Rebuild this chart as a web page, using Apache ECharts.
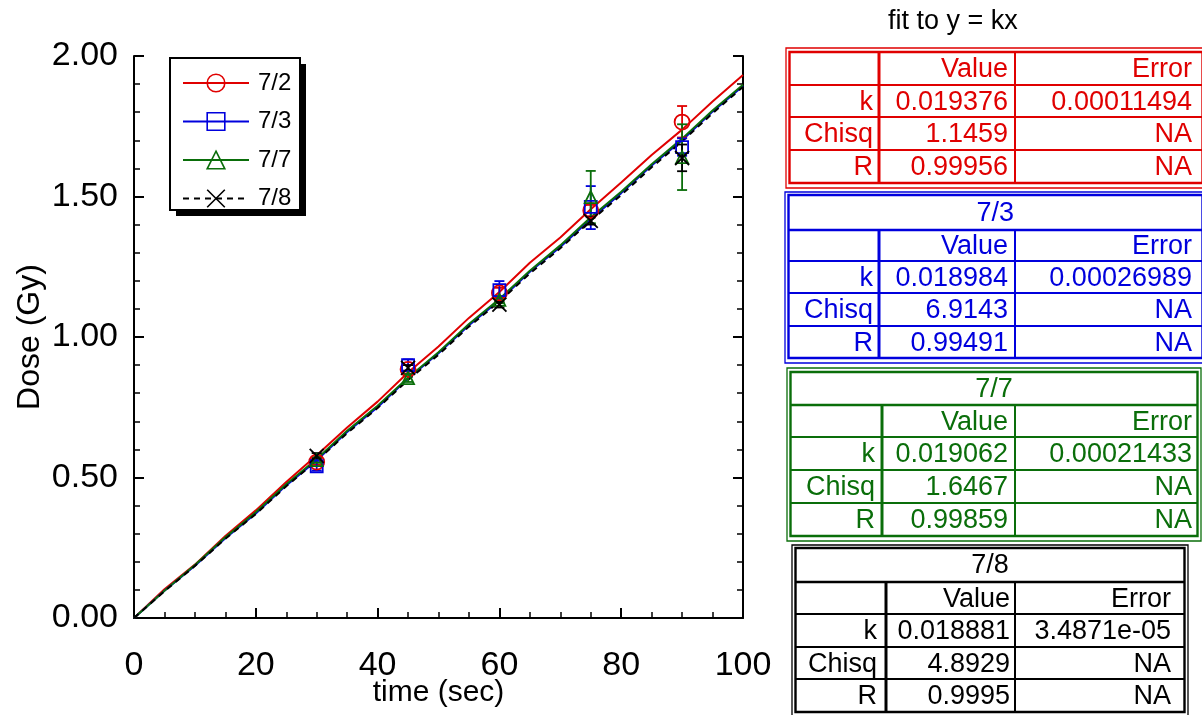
<!DOCTYPE html>
<html>
<head>
<meta charset="utf-8">
<script src="https://cdn.jsdelivr.net/npm/echarts@6/dist/echarts.min.js"></script>
<style>
html,body{margin:0;padding:0;background:#fff;}
#chart{width:1202px;height:715px;}
</style>
</head>
<body>
<div id="chart"></div>
<script>
// ---------- data ----------
const seriesNames = ['7/2', '7/3', '7/7', '7/8'];
const seriesColors = ['#e00000', '#0000dd', '#0a6e0a', '#000000'];
const curveTime = [0, 5, 10, 15, 20, 25, 30, 35, 40, 45, 50, 55, 60, 65, 70, 75, 80, 85, 90, 95, 100];
const curve72 = [0, 0.102, 0.190, 0.292, 0.383, 0.484, 0.579, 0.678, 0.770, 0.874, 0.966, 1.068, 1.160, 1.264, 1.354, 1.455, 1.550, 1.648, 1.738, 1.838, 1.932];
const curve73 = [0, 0.097, 0.186, 0.284, 0.372, 0.472, 0.561, 0.662, 0.750, 0.852, 0.942, 1.042, 1.130, 1.232, 1.320, 1.420, 1.512, 1.610, 1.700, 1.802, 1.893];
const curve77 = [0, 0.097, 0.189, 0.287, 0.376, 0.476, 0.566, 0.666, 0.755, 0.855, 0.946, 1.046, 1.135, 1.236, 1.326, 1.426, 1.517, 1.615, 1.706, 1.806, 1.898];
const curve78 = [0, 0.095, 0.185, 0.282, 0.370, 0.469, 0.559, 0.658, 0.747, 0.847, 0.937, 1.037, 1.126, 1.226, 1.316, 1.414, 1.505, 1.604, 1.696, 1.796, 1.890];
const pointTime = [30, 45, 60, 75, 90];
const points72 = [0.555, 0.885, 1.157, 1.450, 1.765];
const low72 = [0.545, 0.870, 1.140, 1.430, 1.710];
const high72 = [0.565, 0.900, 1.175, 1.470, 1.822];
const points73 = [0.540, 0.900, 1.167, 1.463, 1.676];
const low73 = [0.525, 0.880, 1.135, 1.384, 1.645];
const high73 = [0.555, 0.920, 1.199, 1.537, 1.707];
const points77 = [0.562, 0.854, 1.132, 1.498, 1.640];
const low77 = [0.552, 0.840, 1.120, 1.405, 1.523];
const high77 = [0.572, 0.868, 1.145, 1.591, 1.757];
const points78 = [0.577, 0.890, 1.115, 1.413, 1.637];
const low78 = [0.567, 0.880, 1.105, 1.400, 1.590];
const high78 = [0.587, 0.900, 1.125, 1.426, 1.685];
const fitTitle = 'fit to y = kx';
const fitHeader = ['', 'Value', 'Error'];
const fitRowLabels = ['k', 'Chisq', 'R'];
const fitK = ['0.019376', '0.018984', '0.019062', '0.018881'];
const fitKErr = ['0.00011494', '0.00026989', '0.00021433', '3.4871e-05'];
const fitChisq = ['1.1459', '6.9143', '1.6467', '4.8929'];
const fitR = ['0.99956', '0.99491', '0.99859', '0.9995'];
const naText = 'NA';

// ---------- build ----------
const curves = [curve72, curve73, curve77, curve78];
const pts = [points72, points73, points77, points78];
const lows = [low72, low73, low77, low78];
const highs = [high72, high73, high77, high78];
const symbols = ['circle', 'rect', 'triangle', 'path://M0,0L10,10M0,10L10,0'];
const symbolSizes = [15, 12, 12, 14];
const FONT = '"Liberation Sans", Arial, Helvetica, sans-serif';

const series = [];
seriesNames.forEach((name, i) => {
  series.push({
    name: name, type: 'line', z: 2,
    data: curveTime.map((t, j) => [t, curves[i][j]]),
    showSymbol: false, symbol: symbols[i], symbolSize: symbolSizes[i], symbolKeepAspect: true,
    smooth: false, animation: false,
    color: seriesColors[i],
    lineStyle: { color: seriesColors[i], width: 2, type: i === 3 ? [6, 5] : 'solid' },
    itemStyle: { color: 'none', borderColor: seriesColors[i], borderWidth: 1.6 }
  });
});
seriesNames.forEach((name, i) => {
  series.push({
    name: name, type: 'custom', z: 3, animation: false,
    data: pointTime.map((t, j) => [t, lows[i][j], highs[i][j]]),
    encode: { x: 0, y: [1, 2] },
    renderItem: function (params, api) {
      const x = api.value(0);
      const a = api.coord([x, api.value(1)]);
      const b = api.coord([x, api.value(2)]);
      const st = { stroke: seriesColors[i], lineWidth: 1.8 };
      return { type: 'group', children: [
        { type: 'line', shape: { x1: a[0], y1: a[1], x2: b[0], y2: b[1] }, style: st },
        { type: 'line', shape: { x1: a[0] - 5, y1: a[1], x2: a[0] + 5, y2: a[1] }, style: st },
        { type: 'line', shape: { x1: b[0] - 5, y1: b[1], x2: b[0] + 5, y2: b[1] }, style: st }
      ] };
    }
  });
});
seriesNames.forEach((name, i) => {
  series.push({
    name: name, type: 'scatter', z: 4, animation: false,
    data: pointTime.map((t, j) => [t, pts[i][j]]),
    symbol: symbols[i], symbolSize: symbolSizes[i], symbolKeepAspect: true,
    itemStyle: { color: 'none', borderColor: seriesColors[i], borderWidth: 1.8, opacity: 1 }
  });
});

// ---------- legend box + tables ----------
const graphics = [];
graphics.push({ type: 'rect', z: 5, shape: { x: 176, y: 64, width: 130, height: 152 }, style: { fill: '#000' } });
graphics.push({ type: 'rect', z: 5, shape: { x: 170, y: 58, width: 130, height: 152 }, style: { fill: '#fff', stroke: '#000', lineWidth: 2 } });

const tableLayouts = [
  { left: 786, right: 1206, top: 48, title: false, cols: [879, 1015], rows: [52, 85, 117, 150, 183], bottom: 188, textR: [873, 1008, 1192] },
  { left: 785, right: 1206, top: 192, title: true, cols: [879, 1015], rows: [195, 230, 261, 293, 326, 358], bottom: 363, textR: [873, 1008, 1192] },
  { left: 787, right: 1201, top: 368, title: true, cols: [882, 1015], rows: [372, 405, 437, 470, 503, 536], bottom: 541, textR: [875, 1008, 1192] },
  { left: 792, right: 1188, top: 545, title: true, cols: [886, 1015], rows: [548, 582, 614, 647, 679, 712], bottom: 717, textR: [877, 1010, 1171] }
];
graphics.push({ type: 'text', left: 888, top: 8, style: { text: fitTitle, font: '27px ' + FONT, fill: '#000' } });
tableLayouts.forEach((L, i) => {
  const c = seriesColors[i];
  const innerL = L.left + 3.5, innerR = L.right - 3.5;
  const rTop = L.rows[0], rBot = L.rows[L.rows.length - 1];
  graphics.push({ type: 'rect', shape: { x: L.left, y: L.top, width: L.right - L.left, height: L.bottom - L.top }, style: { fill: 'none', stroke: c, lineWidth: 1.3 } });
  graphics.push({ type: 'rect', shape: { x: innerL, y: rTop, width: innerR - innerL, height: rBot - rTop }, style: { fill: 'none', stroke: c, lineWidth: 2.4 } });
  let r0 = 0;
  if (L.title) {
    graphics.push({ type: 'line', shape: { x1: innerL, y1: L.rows[1], x2: innerR, y2: L.rows[1] }, style: { stroke: c, lineWidth: 2.4 } });
    graphics.push({ type: 'text', style: { text: seriesNames[i], x: (innerL + Math.min(innerR, 1202)) / 2, y: (L.rows[0] + L.rows[1]) / 2 + 1, align: 'center', verticalAlign: 'middle', font: '27px ' + FONT, fill: c } });
    r0 = 1;
  }
  const gridTop = L.rows[r0];
  graphics.push({ type: 'line', shape: { x1: L.cols[0], y1: gridTop, x2: L.cols[0], y2: rBot }, style: { stroke: c, lineWidth: 3 } });
  graphics.push({ type: 'line', shape: { x1: L.cols[1], y1: gridTop, x2: L.cols[1], y2: rBot }, style: { stroke: c, lineWidth: 2 } });
  for (let r = r0 + 1; r < L.rows.length - 1; r++) {
    graphics.push({ type: 'line', shape: { x1: innerL, y1: L.rows[r], x2: innerR, y2: L.rows[r] }, style: { stroke: c, lineWidth: 2 } });
  }
  const cells = [
    fitHeader,
    [fitRowLabels[0], fitK[i], fitKErr[i]],
    [fitRowLabels[1], fitChisq[i], naText],
    [fitRowLabels[2], fitR[i], naText]
  ];
  cells.forEach((row, k) => {
    const yc = (L.rows[r0 + k] + L.rows[r0 + k + 1]) / 2 + 1.5;
    row.forEach((txt, col) => {
      if (!txt) return;
      graphics.push({ type: 'text', style: { text: txt, x: L.textR[col], y: yc, align: 'right', verticalAlign: 'middle', font: '27px ' + FONT, fill: c } });
    });
  });
});

const axisCommon = {
  type: 'value',
  axisLine: { show: true, lineStyle: { color: '#000', width: 2 } },
  axisTick: { show: true, inside: true, length: 10, lineStyle: { color: '#000', width: 2 } },
  splitLine: { show: false },
  minorSplitLine: { show: false }
};

const option = {
  backgroundColor: '#fff',
  animation: false,
  textStyle: { fontFamily: FONT },
  grid: { left: 134, right: 459, top: 56, bottom: 97, containLabel: false, outerBoundsMode: 'none' },
  legend: {
    orient: 'vertical', left: 170, top: 59, z: 6,
    data: seriesNames.map((n, i) => ({ name: n, itemStyle: { color: 'none', borderColor: seriesColors[i], borderWidth: 1.6 } })),
    itemWidth: 66, itemHeight: 22, itemGap: 14.5,
    padding: [12, 12, 8, 12],
    backgroundColor: 'transparent', borderWidth: 0,
    textStyle: { fontSize: 24, fontFamily: FONT, color: 'inherit', padding: [0, 0, 0, 4] },
    selectedMode: false
  },
  xAxis: [Object.assign({}, axisCommon, {
    min: 0, max: 100, interval: 20,
    minorTick: { show: true, splitNumber: 4, length: 6, lineStyle: { color: '#000', width: 1.5 } },
    axisLabel: { fontSize: 34, color: '#000', margin: 31, fontFamily: FONT },
    name: 'time (sec)', nameLocation: 'middle', nameGap: 60, nameMoveOverlap: false,
    nameTextStyle: { fontSize: 30, color: '#000', fontFamily: FONT }
  })],
  yAxis: [Object.assign({}, axisCommon, {
    min: 0, max: 2, interval: 0.5, position: 'left',
    minorTick: { show: true, splitNumber: 5, length: 6, lineStyle: { color: '#000', width: 1.5 } },
    axisLabel: { fontSize: 34, color: '#000', margin: 16, fontFamily: FONT, formatter: v => v.toFixed(2) },
    name: 'Dose (Gy)', nameLocation: 'middle', nameGap: 88, nameMoveOverlap: false,
    nameTextStyle: { fontSize: 32, color: '#000', fontFamily: FONT }
  }), Object.assign({}, axisCommon, {
    min: 0, max: 2, interval: 0.5, position: 'right',
    minorTick: { show: true, splitNumber: 5, length: 6, lineStyle: { color: '#000', width: 1.5 } },
    axisLabel: { show: false }
  })],
  series: series,
  graphic: graphics
};

const chart = echarts.init(document.getElementById('chart'), null, { renderer: 'canvas' });
chart.setOption(option);
</script>
</body>
</html>
